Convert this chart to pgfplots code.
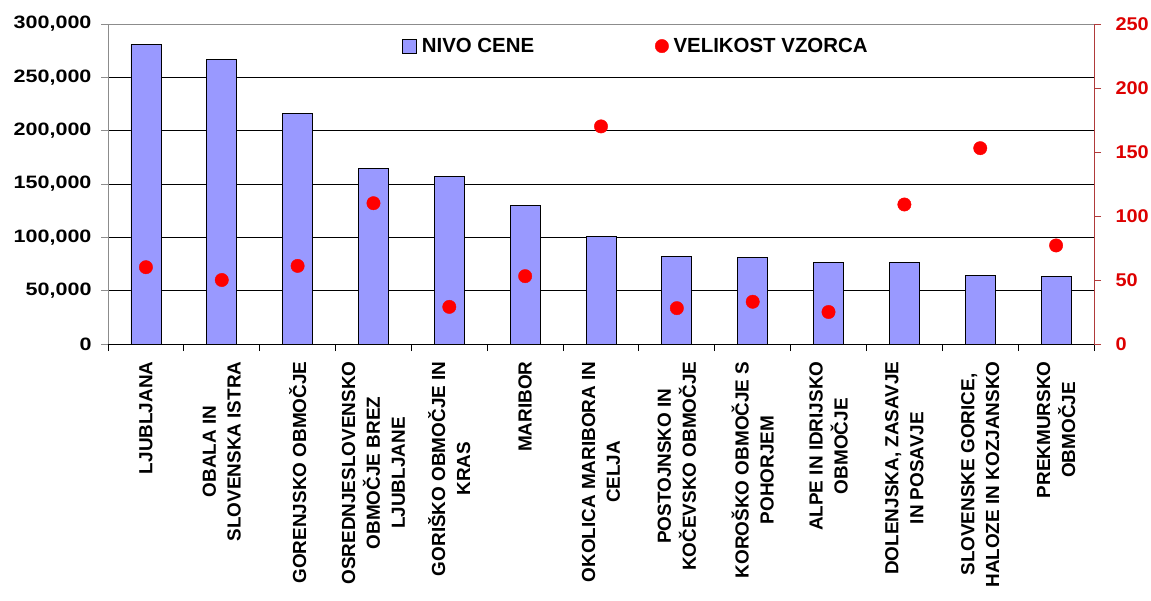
\documentclass[border=0pt]{standalone}
\usepackage{fontspec}
\setmainfont{Liberation Sans}
\newfontfamily\leftnum[FakeStretch=1.2]{Liberation Sans}
\newfontfamily\rightnum[FakeStretch=1.08]{Liberation Sans}
\usepackage{pgfplots}
\usepackage{pgfplotstable}
\pgfplotsset{compat=1.18}

\definecolor{barfill}{HTML}{9999FF}
\definecolor{axgray}{HTML}{8C8C8C}
\definecolor{dotred}{HTML}{FF0000}
\definecolor{rightline}{HTML}{B03A3A}
\definecolor{rightlabel}{HTML}{DD0000}

% region, price level, sample size
\pgfplotstableread{
x price n
0  281000 60
1  267000 50
2  216000 61
3  165000 110
4  157500 29
5  129500 53
6  100500 170
7  82000  28
8  81000  33
9  76500  25
10 76500  109
11 64500  153
12 63500  77
}\data

\pgfplotsset{
  common/.style={
    at={(0,0)}, anchor=south west,
    scale only axis, width=986bp, height=320bp,
    xmin=-0.5, xmax=12.5,
    tick align=outside,
    major tick length=7bp,
    minor tick length=7bp,
    /pgf/number format/assume math mode=true,
  },
  sqlegend/.style={legend image code/.code={\draw[##1] (0bp,-7bp) rectangle (14bp,7bp);}},
  dotlegend/.style={legend image code/.code={\draw[##1] plot coordinates {(7bp,0bp)};}},
}

\begin{document}
\begin{tikzpicture}
\useasboundingbox (-108bp,-257bp) rectangle (1043bp,344bp);

% price level (left axis)
\begin{axis}[common,
  separate axis lines,
  axis x line*=bottom, axis y line*=left,
  x axis line style={black, line width=0.9bp},
  y axis line style={axgray, line width=0.9bp},
  ymin=0, ymax=300000,
  ytick={0,50000,...,250000},
  extra y ticks={300000},
  extra y tick style={grid style={axgray, line width=0.9bp}},
  scaled y ticks=false,
  yticklabel style={font=\fontsize{18}{22}\selectfont\leftnum\bfseries, xshift=-6bp,
    /pgf/number format/.cd, fixed, 1000 sep={,}},
  ymajorgrids, grid style={black, line width=0.9bp},
  y tick style={axgray, line width=0.9bp},
  xtick={0,...,12},
  major x tick style={draw=none},
  minor xtick={-0.5,0.5,...,12.5},
  minor x tick style={black, line width=0.9bp},
  xticklabels={
    LJUBLJANA,
    {OBALA IN\\SLOVENSKA ISTRA},
    GORENJSKO OBMOČJE,
    {OSREDNJESLOVENSKO\\OBMOČJE BREZ\\LJUBLJANE},
    {GORIŠKO OBMOČJE IN\\KRAS},
    MARIBOR,
    {OKOLICA MARIBORA IN\\CELJA},
    {POSTOJNSKO IN\\KOČEVSKO OBMOČJE},
    {KOROŠKO OBMOČJE S\\POHORJEM},
    {ALPE IN IDRIJSKO\\OBMOČJE},
    {DOLENJSKA, ZASAVJE\\IN POSAVJE},
    {SLOVENSKE GORICE,\\HALOZE IN KOZJANSKO},
    {PREKMURSKO\\OBMOČJE}},
  xticklabel style={font=\fontsize{19}{25}\selectfont\bfseries,
    rotate=90, anchor=east, align=center, xshift=-7bp},
]
\addplot[ybar, bar width=30bp, bar shift=0pt, fill=barfill, draw=black, line width=0.8bp]
  table[x=x, y=price] {\data};
\end{axis}

% sample size (right axis)
\begin{axis}[common,
  axis x line=none,
  axis y line*=right,
  y axis line style={rightline, line width=0.9bp},
  y tick style={rightline, line width=0.9bp},
  yticklabel style={font=\fontsize{18.5}{22}\selectfont\rightnum\bfseries,
    text=rightlabel, xshift=11bp},
  ymin=0, ymax=250,
  ytick={0,50,...,250},
  legend columns=2,
  legend style={draw=none, fill=none, at={(0.295,0.931)}, anchor=west,
    font=\fontsize{20.5}{24}\selectfont\bfseries,
    /tikz/every odd column/.append style={column sep=3bp},
    /tikz/every even column/.append style={column sep=119bp}},
]
\addlegendimage{fill=barfill, draw=black, line width=0.8bp, sqlegend}
\addlegendentry{NIVO CENE}
\addplot[only marks, mark=*, mark size=6.7bp, color=dotred, dotlegend]
  table[x=x, y=n] {\data};
\addlegendentry{VELIKOST VZORCA}
\end{axis}
\end{tikzpicture}
\end{document}
